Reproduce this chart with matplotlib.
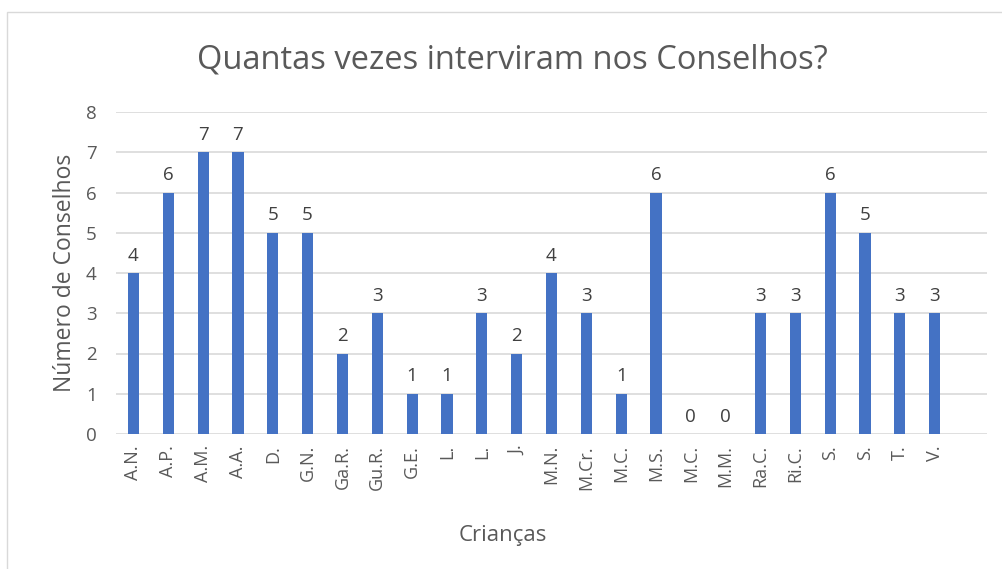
import matplotlib
matplotlib.use('Agg')
import matplotlib.pyplot as plt
from matplotlib.patches import Rectangle

criancas = ['A.N.', 'A.P.', 'A.M.', 'A.A.', 'D.', 'G.N.', 'Ga.R.', 'Gu.R.', 'G.E.', 'L.', 'L.', 'J.',
            'M.N.', 'M.Cr.', 'M.C.', 'M.S.', 'M.C.', 'M.M.', 'Ra.C.', 'Ri.C.', 'S.', 'S.', 'T.', 'V.']
conselhos = [4, 6, 7, 7, 5, 5, 2, 3, 1, 1, 3, 2, 4, 3, 1, 6, 0, 0, 3, 3, 6, 5, 3, 3]
y_ticks = [0, 1, 2, 3, 4, 5, 6, 7, 8]

plt.rcParams['font.family'] = ['Open Sans', 'DejaVu Sans']
text_color = '#595959'

fig = plt.figure(figsize=(10.03, 5.69), dpi=100)
# chart border like the spreadsheet frame
fig.patches.append(Rectangle((7 / 1003, -0.1), 1.2, 1 - 12 / 569 + 0.1, transform=fig.transFigure,
                             fill=False, edgecolor='#D9D9D9', linewidth=1))

ax = fig.add_axes([116 / 1003, 1 - 434 / 569, (987 - 116) / 1003, (434 - 112) / 569])

x = list(range(len(criancas)))
bars = ax.bar(x, conselhos, width=0.32, color='#4472C4', zorder=3)

# value labels over each bar
for rect, v in zip(bars, conselhos):
    ax.annotate(f'{v}', xy=(rect.get_x() + rect.get_width() / 2, rect.get_height()),
                xytext=(0, 6), textcoords='offset points', ha='center', va='bottom',
                fontsize=13.5, color='#404040')

ax.set_xlim(-0.5, len(criancas) + 0.5)
ax.set_ylim(0, 8)
ax.set_yticks(y_ticks)
ax.set_xticks(x)
ax.set_xticklabels(criancas, rotation=90, fontsize=13, color=text_color)
ax.tick_params(axis='y', labelsize=13.5, labelcolor=text_color, length=0, pad=14)
ax.tick_params(axis='x', length=0, pad=8)
ax.grid(axis='y', color='#D9D9D9', linewidth=1.2, zorder=0)
for s in ax.spines.values():
    s.set_visible(False)

ax.set_ylabel('Número de Conselhos', fontsize=16.5, color=text_color, labelpad=6)
fig.text(503 / 1003, 1 - 535 / 569, 'Crianças', ha='center', va='center', fontsize=16, color=text_color)
fig.text(512 / 1003, 1 - 60 / 569, 'Quantas vezes interviram nos Conselhos?', ha='center', va='center',
         fontsize=23.5, color=text_color)

fig.savefig('out.png', dpi=100)
